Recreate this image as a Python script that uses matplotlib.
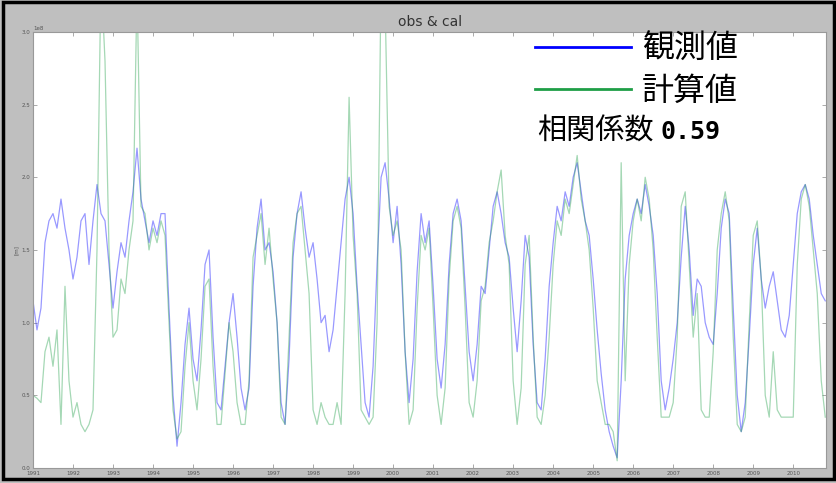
import matplotlib
matplotlib.use("Agg")
import matplotlib.pyplot as plt
import numpy as np
from matplotlib.patches import Rectangle

# ---------------------------------------------------------------------------
# Data (one value every 0.1 year from 1991.0)
# ---------------------------------------------------------------------------
START_YEAR = 1991.0
STEP = 0.1

obs = [
    1.15, 0.95, 1.10, 1.55, 1.70, 1.75, 1.65, 1.85, 1.65, 1.50,
    1.30, 1.45, 1.70, 1.75, 1.40, 1.70, 1.95, 1.75, 1.70, 1.40,
    1.10, 1.35, 1.55, 1.45, 1.70, 1.90, 2.20, 1.85, 1.70, 1.55,
    1.70, 1.60, 1.75, 1.75, 1.10, 0.50, 0.15, 0.45, 0.85, 1.10,
    0.75, 0.60, 0.95, 1.40, 1.50, 0.90, 0.45, 0.40, 0.70, 1.00,
    1.20, 0.90, 0.55, 0.40, 0.55, 1.25, 1.65, 1.85, 1.50, 1.55,
    1.35, 1.00, 0.45, 0.30, 0.75, 1.45, 1.75, 1.90, 1.65, 1.45,
    1.55, 1.30, 1.00, 1.05, 0.80, 0.95, 1.25, 1.55, 1.85, 2.00,
    1.75, 1.25, 0.85, 0.45, 0.35, 0.70, 1.40, 2.00, 2.10, 1.85,
    1.55, 1.80, 1.40, 0.80, 0.45, 0.75, 1.35, 1.75, 1.55, 1.70,
    1.25, 0.75, 0.55, 0.85, 1.40, 1.75, 1.85, 1.70, 1.25, 0.80,
    0.60, 0.85, 1.25, 1.20, 1.50, 1.80, 1.90, 1.75, 1.55, 1.45,
    1.10, 0.80, 1.15, 1.60, 1.45, 0.85, 0.45, 0.40, 0.75, 1.25,
    1.55, 1.80, 1.70, 1.90, 1.80, 2.00, 2.10, 1.90, 1.70, 1.60,
    1.30, 0.95, 0.65, 0.40, 0.25, 0.15, 0.07, 0.60, 1.30, 1.60,
    1.75, 1.85, 1.75, 1.95, 1.80, 1.60, 1.20, 0.60, 0.40, 0.55,
    0.75, 1.00, 1.45, 1.80, 1.50, 1.05, 1.30, 1.25, 1.00, 0.90,
    0.85, 1.20, 1.65, 1.85, 1.75, 1.10, 0.50, 0.25, 0.45, 0.90,
    1.40, 1.65, 1.30, 1.10, 1.25, 1.35, 1.15, 0.95, 0.90, 1.05,
    1.40, 1.75, 1.90, 1.95, 1.85, 1.60, 1.40, 1.20, 1.15,
]

cal = [
    0.50, 0.48, 0.45, 0.80, 0.90, 0.70, 0.95, 0.30, 1.25, 0.60,
    0.35, 0.45, 0.30, 0.25, 0.30, 0.40, 1.50, 3.40, 2.80, 1.50,
    0.90, 0.95, 1.30, 1.20, 1.50, 1.70, 3.30, 1.80, 1.75, 1.50,
    1.65, 1.55, 1.70, 1.60, 1.00, 0.40, 0.20, 0.25, 0.70, 1.00,
    0.60, 0.40, 0.75, 1.25, 1.30, 0.70, 0.30, 0.30, 0.65, 1.00,
    0.80, 0.45, 0.30, 0.30, 0.60, 1.45, 1.60, 1.75, 1.40, 1.65,
    1.30, 1.00, 0.35, 0.30, 0.90, 1.55, 1.75, 1.80, 1.50, 1.20,
    0.40, 0.30, 0.45, 0.35, 0.30, 0.30, 0.45, 0.30, 1.20, 2.55,
    1.60, 1.20, 0.40, 0.35, 0.30, 0.35, 1.00, 3.40, 3.20, 1.80,
    1.60, 1.70, 1.50, 0.80, 0.30, 0.40, 1.10, 1.60, 1.50, 1.65,
    1.10, 0.50, 0.30, 0.55, 1.30, 1.70, 1.80, 1.65, 1.10, 0.45,
    0.35, 0.60, 1.15, 1.25, 1.55, 1.70, 1.90, 2.05, 1.60, 1.40,
    0.60, 0.30, 0.55, 1.40, 1.60, 0.90, 0.35, 0.30, 0.50, 0.90,
    1.40, 1.70, 1.60, 1.85, 1.75, 1.95, 2.15, 1.85, 1.70, 1.50,
    1.10, 0.60, 0.45, 0.30, 0.30, 0.25, 0.05, 2.10, 0.60, 1.40,
    1.70, 1.85, 1.70, 2.00, 1.85, 1.50, 0.90, 0.35, 0.35, 0.35,
    0.45, 0.90, 1.80, 1.90, 1.40, 0.90, 1.20, 0.40, 0.35, 0.35,
    0.80, 1.50, 1.75, 1.90, 1.70, 0.90, 0.30, 0.25, 0.35, 1.00,
    1.60, 1.70, 1.30, 0.50, 0.35, 0.80, 0.40, 0.35, 0.35, 0.35,
    0.35, 1.40, 1.85, 1.95, 1.80, 1.50, 1.20, 0.60, 0.35,
]

years = list(range(1991, 2011))
yticks = [0.0, 0.5, 1.0, 1.5, 2.0, 2.5, 3.0]
corr = 0.59

# ---------------------------------------------------------------------------
# Style
# ---------------------------------------------------------------------------
BG = "#bfbfbf"
CJK = ["Noto Sans CJK JP", "DejaVu Sans"]
BLUE = "#0000ff"
GREEN = "#1e9e46"

fig = plt.figure(figsize=(8.37, 4.83), dpi=100, facecolor=BG)
ax = fig.add_axes([0.0394, 0.031, 0.948, 0.903])
ax.set_facecolor("white")

t = START_YEAR + STEP * np.arange(len(obs))
ax.plot(t, obs, color=BLUE, lw=0.9, alpha=0.4, label="観測値")
ax.plot(t, cal, color=GREEN, lw=0.9, alpha=0.4, label="計算値")

ax.set_xlim(1991.0, 2010.83)
ax.set_ylim(0, 3.0)
ax.set_xticks(years)
ax.set_xticklabels([str(y) for y in years], fontsize=4, color="#555555")
ax.set_yticks(yticks)
ax.set_yticklabels([f"{v:.1f}" for v in yticks], fontsize=4, color="#555555")
ax.tick_params(direction="in", top=True, right=True, length=3, width=0.5,
               colors="#888888", labelcolor="#555555", pad=2)
for spine in ax.spines.values():
    spine.set_color("#999999")
    spine.set_linewidth(0.8)

ax.set_ylabel("[m]", fontsize=4, color="#555555", labelpad=2)
ax.text(0.0, 1.003, "1e8", transform=ax.transAxes, fontsize=4,
        color="#555555", ha="left", va="bottom")
ax.set_title("obs & cal", fontsize=10, color="#333333", pad=4)

leg = ax.legend(loc="upper left", bbox_to_anchor=(535 / 837, 1 - 33 / 483),
                bbox_transform=fig.transFigure, borderpad=0, borderaxespad=0,
                frameon=False, handlelength=3.0, handletextpad=0.35,
                labelspacing=0.32, prop={"family": CJK, "size": 23})
for h in leg.get_lines():
    h.set_alpha(1.0)
    h.set_linewidth(2)

t1 = fig.text(537 / 837, 1 - 132 / 483, "相関係数", fontsize=21, family=CJK,
              color="black", ha="left", va="center")
ax.annotate(f"{corr:.2f}", xy=(1, 0.5), xycoords=t1, xytext=(5, 0),
            textcoords="offset points", fontsize=18, fontweight="bold",
            family="DejaVu Sans Mono", ha="left", va="center")

# screenshot frame
fig.patches.append(Rectangle((0.004, 0.008), 0.992, 0.988,
                             transform=fig.transFigure, fill=False,
                             edgecolor="black", linewidth=2.5))

fig.savefig("out.png", dpi=100, facecolor=BG)
